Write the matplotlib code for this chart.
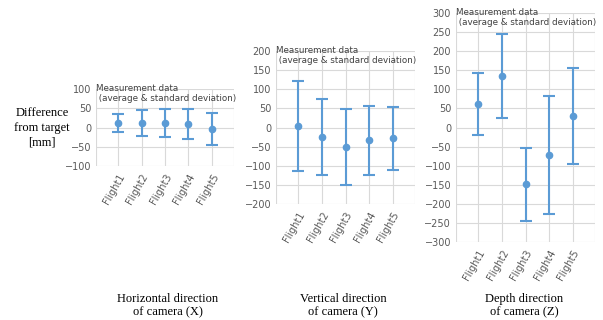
import matplotlib.pyplot as plt

flights = ["Flight1", "Flight2", "Flight3", "Flight4", "Flight5"]

# mean and standard deviation of difference from target [mm]
x_mean = [12, 12, 12.5, 8, -3.5]
x_std = [24, 33, 36.5, 39, 41.5]
y_mean = [4, -24, -51, -33, -28]
y_std = [118, 99, 99.5, 90, 82]
z_mean = [62.5, 135, -149, -72, 30]
z_std = [81.5, 110, 96, 155, 125]

W, H = 603, 320
blue = "#5B9BD5"
grid_c = "#D9D9D9"
tick_c = "#595959"

fig = plt.figure(figsize=(W / 100, H / 100), dpi=100)


def px_axes(left, top, right, bottom):
    return fig.add_axes([left / W, 1 - bottom / H, (right - left) / W, (bottom - top) / H])


panels = [
    (px_axes(96, 89, 234, 166), x_mean, x_std, (-100, 100), 50,
     "Horizontal direction\nof camera (X)", 168),
    (px_axes(276, 51, 415, 204), y_mean, y_std, (-200, 200), 50,
     "Vertical direction\nof camera (Y)", 343),
    (px_axes(456, 13, 595, 242), z_mean, z_std, (-300, 300), 50,
     "Depth direction\nof camera (Z)", 524),
]

for ax, mean, std, ylim, step, caption, cx in panels:
    pos = list(range(1, len(flights) + 1))
    ax.errorbar(pos, mean, yerr=std, fmt="o", color=blue, ecolor=blue,
                markersize=4.5, elinewidth=1.5, capsize=4.5, capthick=1.5, zorder=3)
    ax.set_xlim(0.05, 5.95)
    ax.set_ylim(*ylim)
    ax.set_yticks(range(ylim[0], ylim[1] + 1, step))
    ax.set_xticks(pos)
    ax.set_xticklabels(flights, rotation=60, ha="right", rotation_mode="anchor")
    ax.grid(True, axis="both", color=grid_c, linewidth=0.8)
    ax.tick_params(axis="both", length=0, colors=tick_c, labelsize=7)
    ax.tick_params(axis="x", pad=4)
    for s in ax.spines.values():
        s.set_visible(False)
    ax.axvline(0.05, color=grid_c, linewidth=0.8)
    ax.axvline(5.95, color=grid_c, linewidth=0.8)
    ax.annotate("Measurement data\n (average & standard deviation)",
                xy=(0.0, 1.0), xycoords="axes fraction", xytext=(0, 3.5),
                textcoords="offset points", ha="left", va="top", fontsize=6.3,
                color="#404040", linespacing=1.1, zorder=4)
    fig.text(cx / W, 1 - 305.5 / H, caption, ha="center", va="center",
             fontsize=9, family="Liberation Serif", linespacing=1.2)

fig.text(42 / W, 1 - 128 / H, "Difference\nfrom target\n[mm]", ha="center", va="center",
         fontsize=9, family="Liberation Serif", linespacing=1.3)

fig.savefig("out.png", dpi=100)
